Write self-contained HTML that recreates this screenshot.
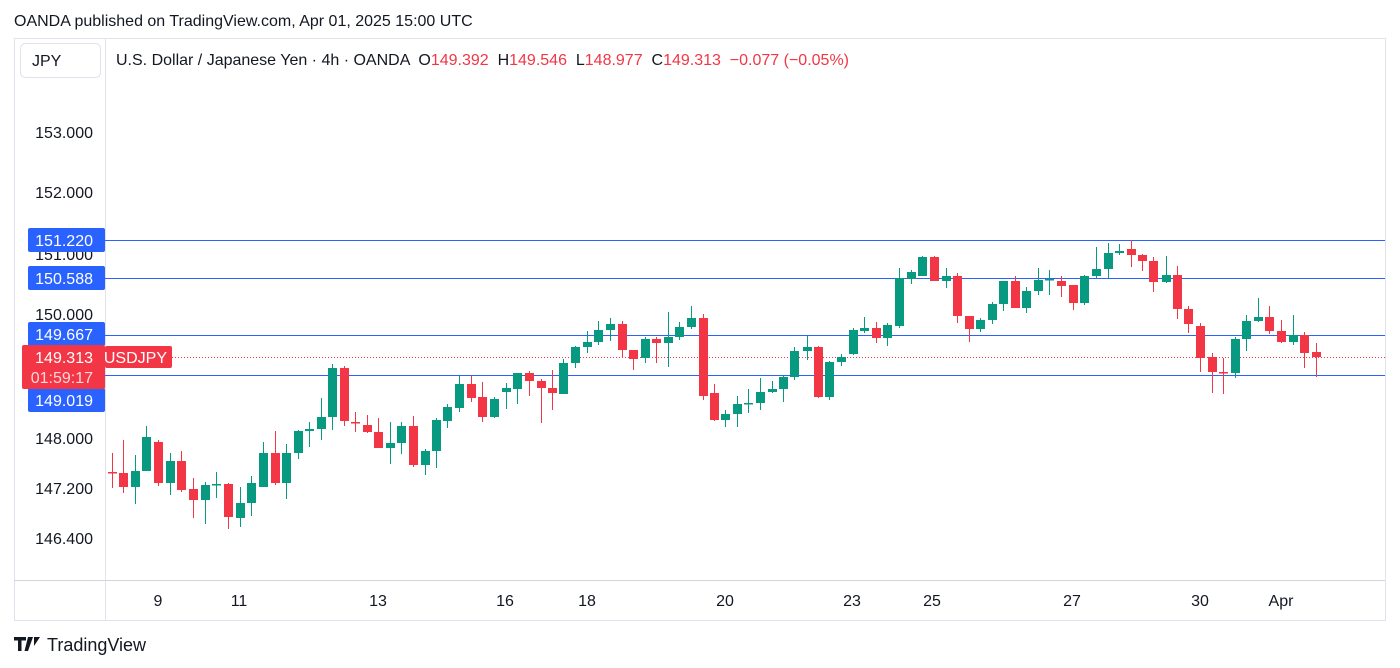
<!DOCTYPE html>
<html><head><meta charset="utf-8"><style>
body{margin:0;background:#fff;font-family:"Liberation Sans","DejaVu Sans",sans-serif;}
svg{display:block}
</style></head><body>
<svg id="s" width="1400" height="668" xmlns="http://www.w3.org/2000/svg" font-family="Liberation Sans, DejaVu Sans, sans-serif">
<rect width="1400" height="668" fill="#fff"/>
<text x="14" y="26" font-size="16" fill="#131722">OANDA published on TradingView.com, Apr 01, 2025 15:00 UTC</text>
<rect x="14.5" y="38.5" width="1371" height="582" fill="none" stroke="#e0e3eb"/>
<line x1="105.5" y1="38" x2="105.5" y2="620" stroke="#e0e3eb"/>
<line x1="14" y1="580.5" x2="1385" y2="580.5" stroke="#d1d4dc"/>
<rect x="20.5" y="43.5" width="80" height="34" rx="5" fill="#fff" stroke="#e0e3eb"/>
<text x="32" y="66" font-size="16" fill="#131722">JPY</text>
<text x="116" y="65" font-size="16" fill="#131722" xml:space="preserve">U.S. Dollar / Japanese Yen · 4h · OANDA  O<tspan fill="#f23645">149.392</tspan>  H<tspan fill="#f23645">149.546</tspan>  L<tspan fill="#f23645">148.977</tspan>  C<tspan fill="#f23645">149.313</tspan>  <tspan fill="#f23645">−0.077 (−0.05%)</tspan></text>
<g font-size="16" fill="#131722" text-anchor="end">
<text x="93" y="138">153.000</text>
<text x="93" y="198">152.000</text>
<text x="93" y="260">151.000</text>
<text x="93" y="320">150.000</text>
<text x="93" y="444">148.000</text>
<text x="93" y="494">147.200</text>
<text x="93" y="544">146.400</text>
</g>
<g stroke="#2962ff" stroke-width="1">
<line x1="105" y1="240.5" x2="1385" y2="240.5"/>
<line x1="105" y1="278.5" x2="1385" y2="278.5"/>
<line x1="105" y1="335.5" x2="1385" y2="335.5"/>
<line x1="105" y1="375.5" x2="1385" y2="375.5"/>
</g>
<line x1="172" y1="357.5" x2="1385" y2="357.5" stroke="#f23645" stroke-dasharray="1 2"/>
<g id="c"></g>
<g font-size="16" fill="#fff" text-anchor="end">
<rect x="28" y="228" width="77" height="24" rx="2" fill="#2962ff"/><text x="93" y="246">151.220</text>
<rect x="28" y="266" width="77" height="24" rx="2" fill="#2962ff"/><text x="93" y="284">150.588</text>
<rect x="28" y="322" width="77" height="24" rx="2" fill="#2962ff"/><text x="93" y="340">149.667</text>
<rect x="28" y="388" width="77" height="24" rx="2" fill="#2962ff"/><text x="93" y="406">149.019</text>
<rect x="22" y="345" width="83" height="44" rx="2" fill="#f23645"/><text x="93" y="363">149.313</text><text x="93" y="383" fill="#ffd6da">01:59:17</text>
<rect x="105" y="346" width="67" height="22" rx="2" fill="#f23645"/><text x="167" y="363" text-anchor="end">USDJPY</text>
</g>
<g font-size="16" fill="#131722" text-anchor="middle">
<text x="158" y="606">9</text><text x="239" y="606">11</text><text x="378" y="606">13</text><text x="505" y="606">16</text><text x="587" y="606">18</text><text x="725" y="606">20</text><text x="852" y="606">23</text><text x="932" y="606">25</text><text x="1072" y="606">27</text><text x="1200" y="606">30</text><text x="1281" y="606">Apr</text>
</g>
<path d="M14 637h12v3.5h-4.5v10.5h-3.5v-10.5h-4z M28 637h5l-5 14h-3.5z M34 637h6l-6 9z" fill="#131722"/>
<text x="47" y="651" font-size="18" fill="#131722">TradingView</text>
</svg>
<script>
var d=[
[112,453,472,473,488,'r'],[123,440,473,487,493,'r'],[135,455,471,487,504,'g'],[146,426,437,471,471,'g'],[158,440,442,483,486,'r'],[170,453,461,483,495,'g'],[181,451,461,490,492,'r'],[193,478,489,500,518,'r'],[205,482,485,500,524,'g'],[216,472,484,485,498,'g'],[228,483,484,517,529,'r'],[240,487,503,518,527,'g'],[251,476,483,503,516,'g'],[263,442,453,487,487,'g'],[275,431,453,483,485,'r'],[286,444,453,483,499,'g'],[298,430,431,453,459,'g'],[309,422,429,431,447,'g'],[321,398,417,429,440,'g'],[332,364,368,417,430,'g'],[344,366,368,421,426,'r'],[355,412,422,423,432,'r'],[367,415,425,432,433,'r'],[378,418,432,448,448,'r'],[390,422,443,448,464,'g'],[401,422,426,443,454,'g'],[413,416,426,465,467,'r'],[425,449,451,465,475,'g'],
[436,418,420,451,468,'g'],[447,404,407,421,428,'g'],[459,376,384,408,412,'g'],[471,376,384,398,402,'r'],[482,382,397,417,422,'r'],[494,397,399,417,418,'g'],[506,383,388,392,409,'g'],[517,373,373,389,404,'g'],[529,371,373,381,396,'r'],[541,379,381,388,423,'r'],[552,370,388,393,410,'r'],[563,359,363,394,394,'g'],[575,346,347,363,368,'g'],[587,331,342,347,353,'g'],[598,321,330,342,345,'g'],[610,318,324,330,341,'g'],[622,321,324,350,358,'r'],[633,350,350,359,370,'r'],[645,337,339,358,363,'g'],[656,337,339,343,363,'r'],[668,312,337,343,367,'g'],[679,322,327,337,340,'g'],[691,306,318,327,329,'g'],[703,314,318,396,400,'r'],[714,384,393,420,421,'r'],[725,410,414,420,427,'g'],[737,396,404,414,427,'g'],[748,389,403,404,413,'g'],
[760,378,392,403,410,'g'],[772,381,389,392,393,'g'],[783,375,377,389,402,'g'],[794,347,351,377,380,'g'],[807,335,347,351,360,'g'],[818,346,347,397,398,'r'],[829,361,362,397,400,'g'],[841,354,357,362,366,'g'],[853,328,330,354,355,'g'],[864,317,328,331,333,'g'],[876,322,328,338,343,'r'],[887,323,325,338,346,'g'],[899,268,278,326,328,'g'],[911,270,272,279,284,'g'],[922,256,257,276,276,'g'],[934,256,257,281,281,'r'],[946,268,276,281,288,'g'],[957,273,276,316,323,'r'],[969,316,316,329,342,'r'],[980,318,320,329,332,'g'],[992,302,304,320,324,'g'],[1003,281,281,304,311,'g'],[1015,276,281,308,308,'r'],[1026,287,291,308,313,'g'],[1038,268,280,291,295,'g'],[1049,270,279,280,295,'g'],[1061,276,281,286,297,'r'],[1073,285,285,303,310,'r'],
[1084,275,276,303,305,'g'],[1096,247,269,276,278,'g'],[1108,243,253,269,278,'g'],[1119,244,251,253,255,'g'],[1131,240,249,255,267,'r'],[1142,254,255,261,271,'r'],[1153,257,261,282,292,'r'],[1166,256,275,282,283,'g'],[1177,266,275,309,319,'r'],[1188,306,309,324,333,'r'],[1200,323,326,358,372,'r'],[1212,353,357,372,393,'r'],[1223,358,372,373,394,'r'],[1235,337,339,373,378,'g'],[1246,315,321,339,351,'g'],[1258,298,317,321,322,'g'],[1269,306,317,331,334,'r'],[1281,320,331,342,343,'r'],[1293,315,335,342,345,'g'],[1304,332,335,353,368,'r'],[1316,343,352,357,377,'r']];
var h='';d.forEach(function(c){var col=c[5]=='g'?'#089981':'#f23645';
h+='<line x1="'+(c[0]+.5)+'" y1="'+c[1]+'" x2="'+(c[0]+.5)+'" y2="'+c[4]+'" stroke="'+col+'" stroke-width="1"/>';
var bh=Math.max(1.5,c[3]-c[2]);h+='<rect x="'+(c[0]-4)+'" y="'+c[2]+'" width="9" height="'+bh+'" fill="'+col+'"/>';});
document.getElementById('c').innerHTML=h;
</script>
</body></html>
